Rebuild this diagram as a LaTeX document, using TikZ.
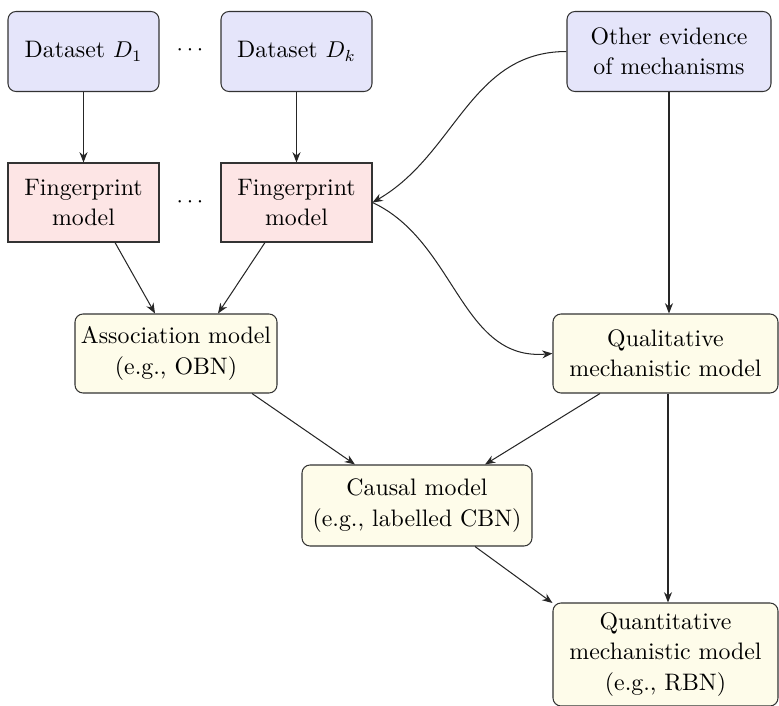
\documentclass[tikz,border=0pt]{standalone}
\usetikzlibrary{arrows.meta}
\definecolor{bluebox}{RGB}{229,229,250}
\definecolor{pinkbox}{RGB}{253,229,229}
\definecolor{yellowbox}{RGB}{254,252,234}
\begin{document}
\begin{tikzpicture}[x=0.4364pt,y=-0.4364pt,
  base/.style={draw=black!80, line width=0.45pt, align=center, inner sep=0pt, font=\fontsize{10.4}{13.2}\selectfont},
  databox/.style={base, fill=bluebox, rounded corners=3.5pt, minimum width=151*0.4364pt, minimum height=80*0.4364pt},
  fpbox/.style={base, fill=pinkbox, minimum width=151*0.4364pt, minimum height=79*0.4364pt},
  modelbox/.style={base, fill=yellowbox, rounded corners=3.5pt},
  conn/.style={-{Stealth[length=4.5pt,width=3.5pt]}, draw=black!85, line width=0.45pt}]
\useasboundingbox (0,0) rectangle (779,706);
\node[databox] (d1) at (83.5,51.5) {Dataset $D_1$};
\node[databox] (dk) at (296.5,51.5) {Dataset $D_k$};
\node[font=\fontsize{10.4}{13.2}\selectfont] (dots1) at (190,50) {$\cdots$};
\node[databox, minimum width=204*0.4364pt] (oth) at (669,51.5) {Other evidence\\of mechanisms};
\node[fpbox] (f1) at (83.5,202.5) {Fingerprint\\model};
\node[fpbox] (fk) at (296.5,202.5) {Fingerprint\\model};
\node[font=\fontsize{10.4}{13.2}\selectfont] (dots2) at (190,202) {$\cdots$};
\node[modelbox, minimum width=202*0.4364pt, minimum height=79*0.4364pt] (as) at (176,353.5) {Association model\\(e.g., OBN)};
\node[modelbox, minimum width=225*0.4364pt, minimum height=79*0.4364pt] (ql) at (665.5,353.5) {Qualitative\\mechanistic model};
\node[modelbox, minimum width=230*0.4364pt, minimum height=81*0.4364pt] (ca) at (417,505.5) {Causal model\\(e.g., labelled CBN)};
\node[modelbox, minimum width=225*0.4364pt, minimum height=103*0.4364pt] (qn) at (665.5,654.5) {Quantitative\\mechanistic model\\(e.g., RBN)};
\draw[conn] (d1) -- (f1);
\draw[conn] (dk) -- (fk);
\draw[conn] (oth.west) to[out=180,in=30] (fk.east);
\draw[conn] (fk.east) to[out=-25,in=185] (ql.west);
\draw[conn] (oth.south) -- (oth.south |- ql.north);
\draw[conn] (f1.south -| 115,0) -- (as.north -| 155,0);
\draw[conn] (fk.south -| 265,0) -- (as.north -| 218,0);
\draw[conn] (as.south -| 252,0) -- (ca.north -| 355,0);
\draw[conn] (ql.south -| 600,0) -- (ca.north -| 485,0);
\draw[conn] (ca.south -| 475,0) -- (qn.west |- 0,603);
\draw[conn] (ql.south -| 668,0) -- (qn.north -| 668,0);
\end{tikzpicture}
\end{document}
